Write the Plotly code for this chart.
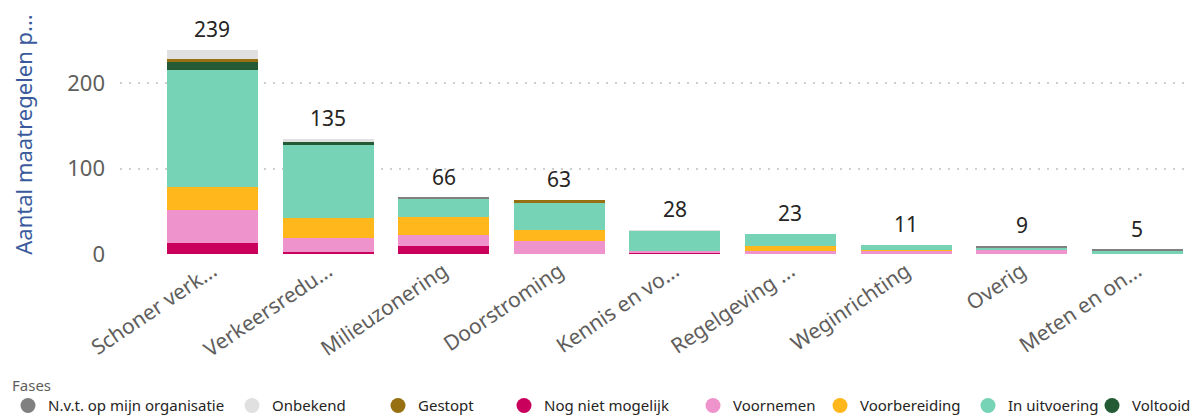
import plotly.graph_objects as go

categories = ["Schoner verk...", "Verkeersredu...", "Milieuzonering", "Doorstroming",
              "Kennis en vo...", "Regelgeving ...", "Weginrichting", "Overig", "Meten en on..."]

# Stack order (bottom to top)
nog_niet_mogelijk = [13, 2, 9, 0, 2, 0, 0, 0, 0]
voornemen =         [38, 17, 13, 15, 2, 3, 4, 5, 0]
voorbereiding =     [28, 23, 21, 13, 0, 6, 1, 0, 0]
in_uitvoering =     [136, 86, 22, 32, 23, 14, 6, 3, 4]
voltooid =          [10, 3, 0, 0, 0, 0, 0, 0, 0]
gestopt =           [3, 0, 0, 3, 0, 0, 0, 0, 0]
onbekend =          [11, 4, 0, 0, 1, 0, 0, 0, 0]
nvt =               [0, 0, 1, 0, 0, 0, 0, 1, 1]

series = [
    ("Nog niet mogelijk", nog_niet_mogelijk, "#c9005c"),
    ("Voornemen", voornemen, "#ef93cc"),
    ("Voorbereiding", voorbereiding, "#ffb71c"),
    ("In uitvoering", in_uitvoering, "#76d3b6"),
    ("Voltooid", voltooid, "#255b34"),
    ("Gestopt", gestopt, "#967011"),
    ("Onbekend", onbekend, "#e0e0e0"),
    ("N.v.t. op mijn organisatie", nvt, "#808080"),
]

# legend order and horizontal position (px of circle centre)
legend_order = ["N.v.t. op mijn organisatie", "Onbekend", "Gestopt", "Nog niet mogelijk",
                "Voornemen", "Voorbereiding", "In uitvoering", "Voltooid"]
legend_px = [14, 252, 398, 524, 713, 840, 988, 1112]

totals = [sum(v) for v in zip(*[s[1] for s in series])]

FONT = "Segoe UI, Noto Sans, Open Sans, sans-serif"
W, H = 1191, 408

fig = go.Figure()
for name, vals, color in series:
    fig.add_trace(go.Bar(x=categories, y=vals, name=name, marker_color=color,
                         marker_line_width=0, showlegend=False))

color_of = {s[0]: s[2] for s in series}
legend_layouts = {}
for i, (name, px) in enumerate(zip(legend_order, legend_px)):
    key = "legend" if i == 0 else f"legend{i + 1}"
    fig.add_trace(go.Scatter(x=[None], y=[None], mode="markers", name=name,
                             marker=dict(symbol="circle", size=15, color=color_of[name]),
                             legend=key, showlegend=True))
    legend_layouts[key] = dict(orientation="h", xref="container", yref="container",
                               x=max(0.0, (px - 28) / W), y=0.025, xanchor="left",
                               yanchor="middle",
                               font=dict(size=15, color="#252423", family=FONT),
                               bgcolor="rgba(0,0,0,0)")

annotations = [dict(x=c, y=t, text=str(t), xref="x", yref="y", showarrow=False,
                    yanchor="middle", yshift=21,
                    font=dict(size=21, color="#252423", family=FONT))
               for c, t in zip(categories, totals)]
annotations.append(dict(text="Fases", xref="paper", yref="paper", x=-0.102, y=-0.548,
                        xanchor="left", yanchor="middle", showarrow=False,
                        font=dict(size=15, color="#605e5c", family=FONT)))

fig.update_layout(
    width=W, height=H,
    barmode="stack", bargap=0.213,
    paper_bgcolor="white", plot_bgcolor="white",
    margin=dict(l=112, r=4, t=7, b=162, autoexpand=False),
    font=dict(family=FONT, color="#605e5c"),
    showlegend=True,
    annotations=annotations,
    **legend_layouts,
)
fig.update_xaxes(range=[-0.8, 8.5], tickangle=-34, tickfont=dict(size=21, color="#605e5c"),
                 showgrid=False, showline=False, zeroline=False, automargin=False)
fig.update_yaxes(range=[0, 280], tickvals=[0, 100, 200], tickfont=dict(size=22, color="#605e5c"),
                 showgrid=True, gridcolor="#cfcfcf", griddash="2px,7px", gridwidth=1.5,
                 zeroline=False, ticklabelstandoff=14, automargin=False,
                 title=dict(text="Aantal maatregelen p...", font=dict(size=22, color="#3a5a9c"),
                            standoff=34))

fig.write_html("out.html")
